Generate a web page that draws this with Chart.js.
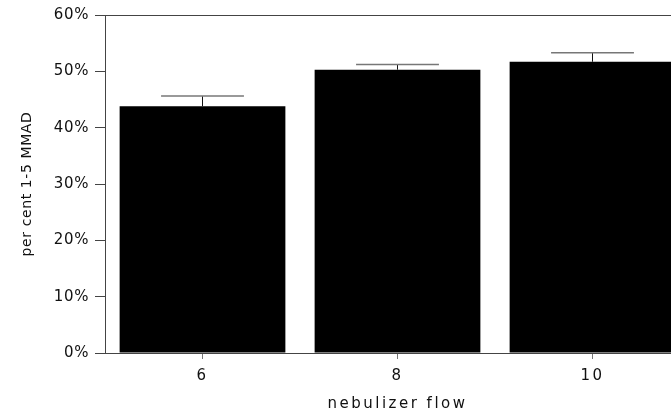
<!DOCTYPE html>
<html>
<head>
<meta charset="utf-8">
<script src="https://cdn.jsdelivr.net/npm/chart.js@4"></script>
<style>
    html, body { margin: 0; padding: 0; background: #fff; overflow: hidden; }
    #wrap { width: 700px; height: 413px; }
</style>
</head>
<body>
<div id="wrap"><canvas id="flowChart"></canvas></div>
<script>
// dados
const flowLabels = ['6', '8', '10'];
const percentValues = [43.8, 50.3, 51.7];
const errorValues = [1.8, 0.9, 1.6];
const yTickStep = 10;
const yTickMax = 60;

// barras de erro só para cima (traço + tampa)
const upperErrorBars = {
    id: 'upperErrorBars',
    afterDatasetsDraw: function(chart) {
        const ctx = chart.ctx;
        const yScale = chart.scales.y;
        const meta = chart.getDatasetMeta(0);
        ctx.save();
        meta.data.forEach(function(bar, i) {
            const top = yScale.getPixelForValue(percentValues[i] + errorValues[i]);
            const half = bar.width * 0.25;
            ctx.strokeStyle = '#111';
            ctx.lineWidth = 1;
            ctx.beginPath();
            ctx.moveTo(bar.x, bar.y);
            ctx.lineTo(bar.x, top);
            ctx.stroke();
            ctx.strokeStyle = '#777';
            ctx.lineWidth = 1.5;
            ctx.beginPath();
            ctx.moveTo(bar.x - half, top);
            ctx.lineTo(bar.x + half, top);
            ctx.stroke();
        });
        ctx.restore();
    }
};

// texto da figura escaneada é bem largo no eixo x;
// as camadas do eixo y (z: 1) saem depois das barras, com espaçamento menor
const wideText = {
    id: 'wideText',
    beforeUpdate: function(chart) { chart.ctx.letterSpacing = '2.5px'; },
    beforeDraw: function(chart) { chart.ctx.letterSpacing = '2.5px'; },
    afterDatasetsDraw: function(chart) { chart.ctx.letterSpacing = '0.6px'; }
};

const FlowChart = {
    init: function() {
        const canvas = document.getElementById('flowChart');
        if (!canvas) return;

        new Chart(canvas.getContext('2d'), {
            type: 'bar',
            data: {
                labels: flowLabels,
                datasets: [{
                    data: percentValues,
                    backgroundColor: '#000',
                    borderWidth: 0,
                    barPercentage: 0.85,
                    categoryPercentage: 1
                }]
            },
            options: {
                responsive: true,
                maintainAspectRatio: false,
                animation: false,
                layout: { padding: { top: 15, right: 10, left: 0, bottom: 0 } },
                plugins: {
                    legend: { display: false },
                    tooltip: { enabled: false }
                },
                scales: {
                    x: {
                        afterFit: function(scale) { scale.height = 60; },
                        grid: {
                            offset: false,
                            drawOnChartArea: false,
                            tickLength: 6,
                            tickColor: '#777'
                        },
                        border: { color: '#444', width: 1 },
                        ticks: {
                            padding: 8,
                            color: '#111',
                            font: { family: 'DejaVu Sans', size: 15 }
                        },
                        title: {
                            display: true,
                            text: 'nebulizer flow',
                            color: '#111',
                            padding: { top: 0, bottom: 0 },
                            font: { family: 'DejaVu Sans', size: 15 }
                        }
                    },
                    y: {
                        min: 0,
                        max: yTickMax,
                        afterFit: function(scale) { scale.width = 105; },
                        grid: {
                            z: 1,
                            color: function(c) { return c.tick && c.tick.value === yTickMax ? '#444' : 'transparent'; },
                            tickColor: '#444',
                            tickLength: 10
                        },
                        border: { z: 1, color: '#444', width: 1 },
                        ticks: {
                            z: 1,
                            stepSize: yTickStep,
                            padding: 6,
                            color: '#111',
                            font: { family: 'DejaVu Sans', size: 15 },
                            callback: function(v) { return v + '%'; }
                        },
                        title: {
                            display: true,
                            text: 'per cent 1-5 MMAD',
                            color: '#111',
                            padding: { top: 19, bottom: 0 },
                            font: { family: 'DejaVu Sans', size: 14 }
                        }
                    }
                }
            },
            plugins: [wideText, upperErrorBars]
        });
    }
};

document.addEventListener('DOMContentLoaded', function() {
    FlowChart.init();
});
</script>
</body>
</html>
